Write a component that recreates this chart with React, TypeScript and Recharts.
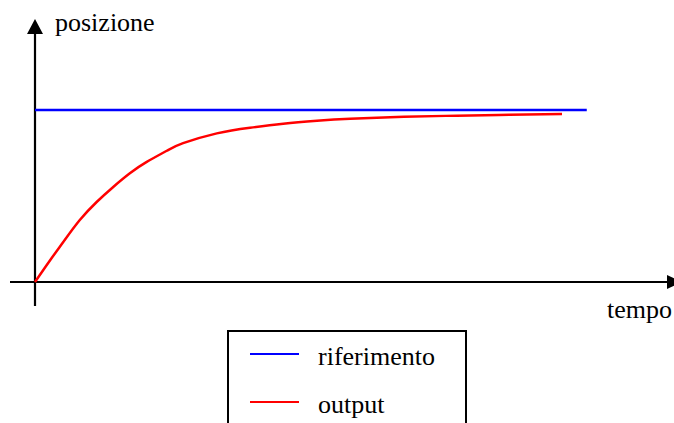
import { Legend, Line, LineChart, ReferenceLine, XAxis, YAxis } from "recharts";

// tempo (s) e valori
const outputTimes = [
  0, 0.29, 0.54, 0.85, 1.17, 1.49, 1.8, 2.12, 2.5, 2.81, 3.45, 4.08, 4.71, 5.35, 5.98, 7, 8, 9, 10,
];
const outputValues = [
  0, 0.128, 0.234, 0.36, 0.465, 0.554, 0.632, 0.698, 0.763, 0.807, 0.864, 0.897, 0.92, 0.937,
  0.949, 0.96, 0.967, 0.972, 0.977,
];
const referenceTimes = [0, 10.47];
const referenceValues = [1, 1];

const seriesNames = ["riferimento", "output"];
const axisLabels = { x: "tempo", y: "posizione" };

const xDomain: [number, number] = [-0.4744, 12.277];
const yDomain: [number, number] = [-0.1395, 1.529];

const outputData = outputTimes.map((t, i) => ({ t, v: outputValues[i] }));
const referenceData = referenceTimes.map((t, i) => ({ t, v: referenceValues[i] }));

const FONT = "'Liberation Serif', 'Times New Roman', serif";

function XArrowAxis(props: any) {
  const { x1, y1, x2 } = props;
  const head = 15;
  return (
    <g>
      <line x1={x1} y1={y1} x2={x2 - head} y2={y1} stroke="#000" strokeWidth={2.2} />
      <polygon points={`${x2},${y1} ${x2 - head},${y1 - 7} ${x2 - head},${y1 + 7}`} fill="#000" />
      <text x={x2 - 10} y={y1 + 36} textAnchor="end" fontSize={26} style={{ fontFamily: FONT }} fill="#000">
        {axisLabels.x}
      </text>
    </g>
  );
}

function YArrowAxis(props: any) {
  const { x1, y1, y2 } = props;
  const top = Math.min(y1, y2);
  const bottom = Math.max(y1, y2);
  const head = 15;
  return (
    <g>
      <line x1={x1} y1={bottom} x2={x1} y2={top + head} stroke="#000" strokeWidth={2.2} />
      <polygon points={`${x1},${top} ${x1 - 8},${top + head} ${x1 + 8},${top + head}`} fill="#000" />
      <text x={x1 + 20} y={top + 12} fontSize={26} style={{ fontFamily: FONT }} fill="#000">
        {axisLabels.y}
      </text>
    </g>
  );
}

function LegendBox({ payload }: any) {
  const items = [...(payload ?? [])].sort(
    (a: any, b: any) => seriesNames.indexOf(a.value) - seriesNames.indexOf(b.value)
  );
  return (
    <svg width={240} height={110} style={{ display: "block" }}>
      <rect x={1} y={1} width={238} height={130} fill="#fff" stroke="#000" strokeWidth={2} />
      {items.map((item: any, i: number) => (
        <g key={item.value}>
          <line x1={23} x2={72} y1={24 + i * 48} y2={24 + i * 48} stroke={item.color} strokeWidth={2} />
          <text x={91} y={35 + i * 48} fontSize={26} style={{ fontFamily: FONT }} fill="#000">
            {item.value}
          </text>
        </g>
      ))}
    </svg>
  );
}

export default function App() {
  return (
    <div style={{ width: 674, height: 423, overflow: "hidden", background: "#fff" }}>
      <style>{"body{margin:0}"}</style>
      <LineChart
        width={690}
        height={423}
        margin={{ top: 19, right: 8, left: 10, bottom: 117 }}
        style={{ fontFamily: FONT }}
      >
        <XAxis type="number" dataKey="t" domain={xDomain} allowDataOverflow hide />
        <YAxis type="number" dataKey="v" domain={yDomain} allowDataOverflow hide />
        <ReferenceLine
          segment={[
            { x: xDomain[0], y: 0 },
            { x: xDomain[1], y: 0 },
          ]}
          ifOverflow="visible"
          shape={XArrowAxis}
        />
        <ReferenceLine
          segment={[
            { x: 0, y: yDomain[0] },
            { x: 0, y: yDomain[1] },
          ]}
          ifOverflow="visible"
          shape={YArrowAxis}
        />
        <Line
          data={referenceData}
          dataKey="v"
          name={seriesNames[0]}
          type="linear"
          stroke="#0000ff"
          strokeWidth={2.5}
          dot={false}
          isAnimationActive={false}
        />
        <Line
          data={outputData}
          dataKey="v"
          name={seriesNames[1]}
          type="natural"
          stroke="#ff0000"
          strokeWidth={2.5}
          dot={false}
          isAnimationActive={false}
        />
        <Legend
          layout="horizontal"
          verticalAlign="middle"
          content={LegendBox}
          wrapperStyle={{ left: 227, top: 330, width: 240, height: 110 }}
        />
      </LineChart>
    </div>
  );
}
